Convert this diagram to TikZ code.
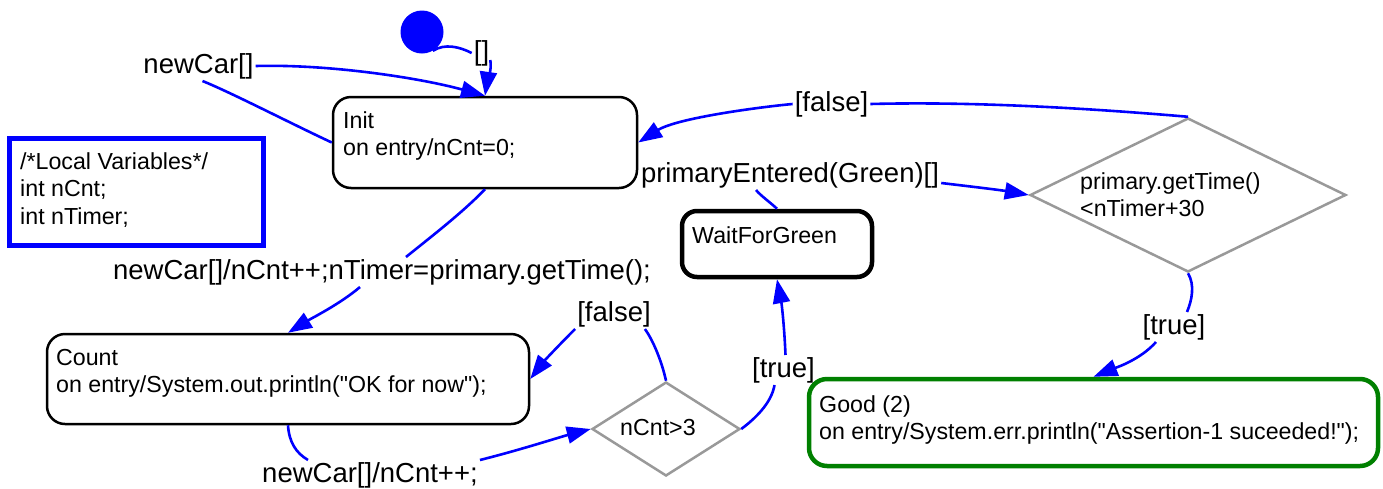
\documentclass[tikz,border=0pt]{standalone}
\usepackage{fontspec}
\setmainfont{Liberation Sans}[Ligatures=TeXOff]
\usetikzlibrary{arrows.meta,shapes.geometric,calc}
\definecolor{choicegray}{RGB}{153,153,153}
\definecolor{goodgreen}{RGB}{0,128,0}
\newcommand{\biglbl}{\fontsize{27.5}{33}\selectfont}
\newcommand{\smalltxt}{\fontsize{23.2}{27.5}\selectfont}
\newcommand{\tlines}[1]{\begin{tabular}[t]{@{}l@{}}#1\end{tabular}}
\begin{document}
\begin{tikzpicture}[x=1pt,y=-1pt,
  state/.style={draw=black, line width=2.5pt, rounded corners=18pt, inner sep=0pt},
  choice/.style={shape=diamond, draw=choicegray, line width=2.5pt, inner sep=0pt},
  tr/.style={draw=blue, line width=2.6pt},
  arr/.style={-{Triangle[length=24pt,width=17pt]}},
  lbl/.style={font=\biglbl, inner sep=2pt},
  txt/.style={font=\smalltxt, inner sep=0pt, anchor=base west}]
\useasboundingbox (0,0) rectangle (1383,488);

% states and choice points
\node[circle, fill=blue, minimum size=43pt, inner sep=0pt] (start) at (422,32) {};
\node[state, minimum width=304pt, minimum height=91pt] (init) at (485,142.5) {};
\node[state, minimum width=482pt, minimum height=90pt] (count) at (288,379) {};
\node[state, line width=4.5pt, rounded corners=15pt, minimum width=190pt, minimum height=66pt] (wait) at (777,244) {};
\node[state, draw=goodgreen, line width=4.5pt, minimum width=569pt, minimum height=87pt] (good) at (1093.5,422.5) {};
\node[draw=blue, line width=5pt, minimum width=254pt, minimum height=107pt, inner sep=0pt] (vars) at (136,191.5) {};
\node[choice, minimum width=316pt, minimum height=154pt] (timechk) at (1188,195) {};
\node[choice, minimum width=148pt, minimum height=94pt] (cntchk) at (666,429) {};

% texts inside the shapes
\node[txt] (initT) at (343,128) {\tlines{Init\\on entry/nCnt=0;}};
\node[txt] (countT) at (56,365) {\tlines{Count\\on entry/System.out.println("OK for now");}};
\node[txt] (waitT) at (692,243) {WaitForGreen};
\node[txt] (goodT) at (819,412) {\tlines{Good (2)\\on entry/System.err.println("Assertion-1 suceeded!");}};
\node[txt] (varsT) at (20,169) {\tlines{/*Local Variables*/\\int nCnt;\\int nTimer;}};
\node[txt] (timeT) at (1080,189) {\tlines{primary.getTime()\\<nTimer+30}};
\node[txt] (cntT) at (620,435) {nCnt>3};

% transition labels
\node[lbl] (lStart) at (481.5,53) {[]};
\node[lbl] (lSelf) at (198.5,66) {newCar[]};
\node[lbl] (lFalseA) at (831.5,104) {[false]};
\node[lbl] (lGreen) at (790,175) {primaryEntered(Green)[]};
\node[lbl] (lFirst) at (382,272) {newCar[]/nCnt++;nTimer=primary.getTime();};
\node[lbl] (lNext) at (370,475) {newCar[]/nCnt++;};
\node[lbl] (lFalseB) at (614,314) {[false]};
\node[lbl] (lTrueA) at (783.5,370) {[true]};
\node[lbl] (lTrueB) at (1174,327) {[true]};

% initial transition
\draw[tr] (start.-60) .. controls (445,43) and (460,47) .. (lStart.west);
\draw[tr,arr] ($(lStart.east)+(-1,7)$) .. controls (492,72) and (487,82) .. (init.north);

% self transition on Init
\draw[tr] (init.west) .. controls (290,123) and (230,92) .. ($(lSelf.south)+(4,0)$);
\draw[tr,arr] (lSelf.east) .. controls (330,64) and (420,78) .. (init.north);

% timeout check back to Init
\draw[tr] (timechk.north) .. controls (1050,105) and (950,102) .. (lFalseA.east);
\draw[tr,arr] (lFalseA.west) .. controls (760,107) and (677,118) .. (init.east);

% WaitForGreen to timeout check
\draw[tr] (wait.north) .. controls (771,203) and (761,196) .. ($(lGreen.south)+(-34,0)$);
\draw[tr,arr] ($(lGreen.east)+(0,8)$) .. controls (975,187) and (1000,190) .. (timechk.west);

% Init to Count
\draw[tr] (init.south) .. controls (462,213) and (432,236) .. ($(lFirst.north)+(24,0)$);
\draw[tr,arr] ($(lFirst.south)+(-22,0)$) .. controls (340,304) and (312,318) .. (count.north);

% Count to counter check
\draw[tr] (count.south) .. controls (289,442) and (296,453) .. ($(lNext.north)+(-62,0)$);
\draw[tr,arr] (lNext.north east) .. controls (520,450) and (560,437) .. (cntchk.west);

% counter check outcomes
\draw[tr] (cntchk.north) .. controls (662,362) and (653,340) .. ($(lFalseB.south east)+(-8,0)$);
\draw[tr,arr] (lFalseB.south west) .. controls (562,342) and (545,360) .. (count.east);
\draw[tr] (cntchk.east) .. controls (760,415) and (772,400) .. ($(lTrueA.south)+(-9,0)$);
\draw[tr,arr] ($(lTrueA.north)+(2,0)$) .. controls (784,320) and (781,300) .. (wait.south);

% timeout check to Good
\draw[tr] (timechk.south) .. controls (1195,285) and (1192,300) .. ($(lTrueB.north)+(13,0)$);
\draw[tr,arr] ($(lTrueB.south)+(-18,0)$) .. controls (1140,360) and (1115,368) .. (good.north);
\end{tikzpicture}
\end{document}
